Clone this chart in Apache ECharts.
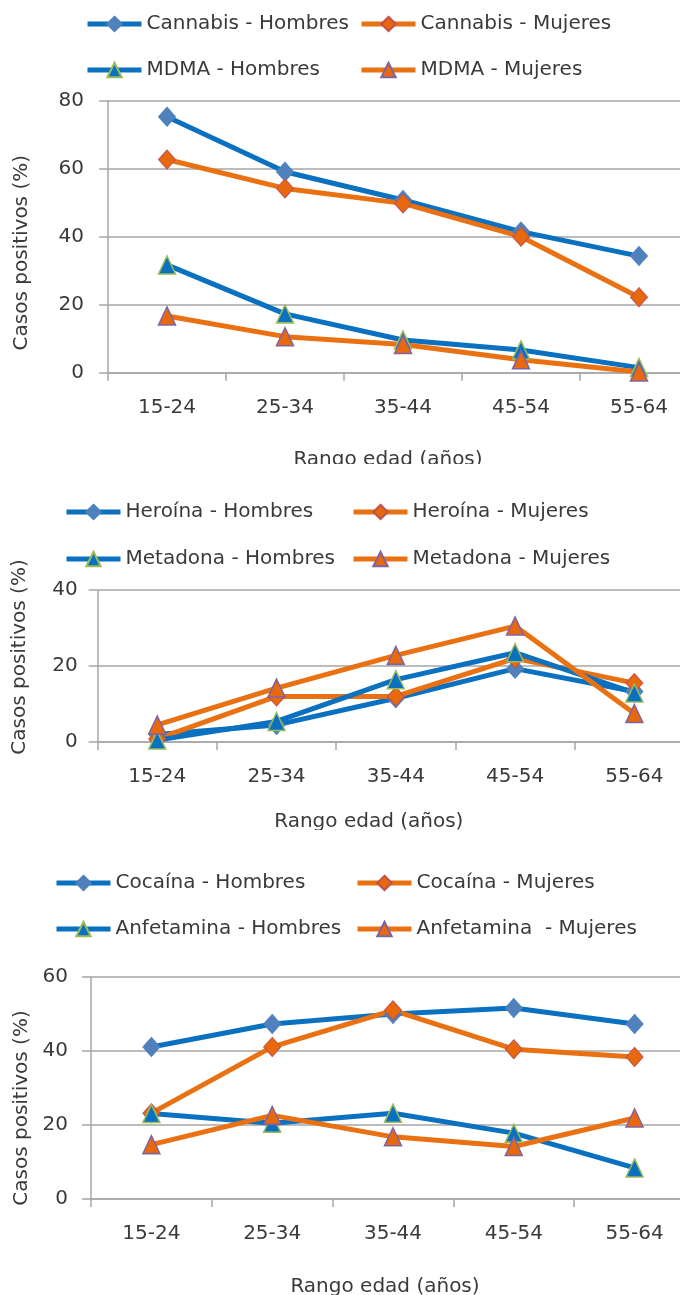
<!DOCTYPE html>
<html>
<head>
<meta charset="utf-8">
<script src="https://cdn.jsdelivr.net/npm/echarts@6/dist/echarts.min.js"></script>
<style>
html,body{margin:0;padding:0;background:#fff;overflow:hidden;width:680px;height:1295px;}
.panel{position:absolute;left:0;width:720px;overflow:hidden;}
</style>
</head>
<body>
<div id="c1" class="panel" style="top:0;height:464px"></div>
<div id="c2" class="panel" style="top:464px;height:366px"></div>
<div id="c3" class="panel" style="top:830px;height:465px"></div>
<script>
// ---- data ----
const ageGroups = ['15-24', '25-34', '35-44', '45-54', '55-64'];
const yTicks1 = [0, 20, 40, 60, 80];
const yTicks2 = [0, 20, 40];
const yTicks3 = [0, 20, 40, 60];

const cannabisHombres = [75.3, 59.1, 50.8, 41.5, 34.3];
const cannabisMujeres = [62.7, 54.2, 49.8, 40.0, 22.2];
const mdmaHombres = [31.7, 17.3, 9.6, 6.7, 1.5];
const mdmaMujeres = [16.7, 10.6, 8.3, 3.8, 0.2];

const heroinaHombres = [2.0, 4.5, 11.5, 19.3, 13.3];
const heroinaMujeres = [0.8, 12.0, 12.0, 22.0, 15.5];
const metadonaHombres = [0.5, 5.4, 16.4, 23.5, 12.9];
const metadonaMujeres = [4.5, 14.2, 22.8, 30.5, 7.5];

const cocainaHombres = [41.1, 47.3, 50.0, 51.6, 47.3];
const cocainaMujeres = [23.2, 41.1, 51.0, 40.5, 38.4];
const anfetaminaHombres = [23.1, 20.5, 23.2, 17.8, 8.4];
const anfetaminaMujeres = [14.7, 22.6, 16.8, 14.2, 21.9];

// ---- styles ----
const FONT = 'DejaVu Sans';
const TXT = '#3a3a3a';
const GRID = '#a6a6a6';
const BLUE = '#0a70c0';
const ORANGE = '#ea7112';
const PANEL_W = 720;

const markerStyles = {
  hDiamond: { symbol: 'diamond', symbolSize: [17, 19], color: BLUE, itemStyle: { color: '#4f81bd', borderColor: '#4f81bd', borderWidth: 1 } },
  mDiamond: { symbol: 'diamond', symbolSize: [17, 19], color: ORANGE, itemStyle: { color: '#e8680e', borderColor: '#c0504d', borderWidth: 1 } },
  hTri: { symbol: 'triangle', symbolSize: [17, 18], color: BLUE, itemStyle: { color: '#0a70c0', borderColor: '#9bbb59', borderWidth: 1.5 } },
  mTri: { symbol: 'triangle', symbolSize: [17, 18], color: ORANGE, itemStyle: { color: '#e8680e', borderColor: '#8064a2', borderWidth: 1.5 } }
};

function mkSeries(name, data, kind) {
  const m = markerStyles[kind];
  return {
    name: name, type: 'line', data: data,
    symbol: m.symbol, symbolSize: m.symbolSize, showSymbol: true,
    lineStyle: { color: m.color, width: 5 },
    itemStyle: m.itemStyle,
    emphasis: { disabled: true },
    animation: false
  };
}

function mkLegend(name, left, top) {
  return {
    data: [name], left: left, top: top, padding: 0,
    itemWidth: 54, itemHeight: 18,
    lineStyle: { width: 5 },
    textStyle: { fontFamily: FONT, fontSize: 20, color: TXT },
    selectedMode: false
  };
}

function mkOption(cfg) {
  return {
    backgroundColor: '#fff',
    animation: false,
    textStyle: { fontFamily: FONT },
    legend: cfg.legends,
    grid: {
      left: cfg.grid[0], top: cfg.grid[1], right: PANEL_W - cfg.grid[2], bottom: cfg.grid[3],
      containLabel: false, outerBoundsMode: 'none'
    },
    xAxis: {
      type: 'category', data: ageGroups, boundaryGap: true,
      axisLine: { lineStyle: { color: GRID, width: 1.5 } },
      axisTick: { show: true, length: 8, lineStyle: { color: GRID, width: 1.5 } },
      axisLabel: { fontFamily: FONT, fontSize: 20, color: TXT, margin: cfg.xLabelMargin },
      name: 'Rango edad (años)', nameLocation: 'middle', nameGap: cfg.xNameGap,
      nameTextStyle: { fontFamily: FONT, fontSize: 20, color: TXT, padding: [0, cfg.xNamePadR, 0, 0] }
    },
    yAxis: {
      type: 'value', min: 0, max: cfg.yTicks[cfg.yTicks.length - 1], interval: 20,
      axisLine: { show: true, lineStyle: { color: GRID, width: 1.5 } },
      axisTick: { show: true, length: 9, lineStyle: { color: GRID, width: 1.5 } },
      axisLabel: { fontFamily: FONT, fontSize: 20, color: TXT, margin: cfg.yLabelMargin },
      splitLine: { show: true, lineStyle: { color: GRID, width: 1.5 } },
      name: 'Casos positivos (%)', nameLocation: 'middle', nameGap: cfg.yNameGap, nameRotate: 90,
      nameTextStyle: { fontFamily: FONT, fontSize: 20, color: TXT, padding: cfg.yNamePad }
    },
    series: cfg.series
  };
}

const ch1 = echarts.init(document.getElementById('c1'));
ch1.setOption(mkOption({
  legends: [
    mkLegend('Cannabis - Hombres', 85, 14),
    mkLegend('Cannabis - Mujeres', 359, 14),
    mkLegend('MDMA - Hombres', 85, 60),
    mkLegend('MDMA - Mujeres', 359, 60)
  ],
  grid: [108, 100.7, 698, 91.3],
  yTicks: yTicks1,
  xLabelMargin: 25, xNameGap: 77, xNamePadR: 30,
  yLabelMargin: 24, yNameGap: 76, yNamePad: [0, 32, 0, 0],
  series: [
    mkSeries('Cannabis - Hombres', cannabisHombres, 'hDiamond'),
    mkSeries('Cannabis - Mujeres', cannabisMujeres, 'mDiamond'),
    mkSeries('MDMA - Hombres', mdmaHombres, 'hTri'),
    mkSeries('MDMA - Mujeres', mdmaMujeres, 'mTri')
  ]
}));

const ch2 = echarts.init(document.getElementById('c2'));
ch2.setOption(mkOption({
  legends: [
    mkLegend('Heroína - Hombres', 64, 38),
    mkLegend('Heroína - Mujeres', 351, 38),
    mkLegend('Metadona - Hombres', 64, 85),
    mkLegend('Metadona - Mujeres', 351, 85)
  ],
  grid: [97.6, 126, 694, 88],
  yTicks: yTicks2,
  xLabelMargin: 25, xNameGap: 70, xNamePadR: 54,
  yLabelMargin: 20, yNameGap: 68, yNamePad: [0, 0, 0, 18],
  series: [
    mkSeries('Heroína - Hombres', heroinaHombres, 'hDiamond'),
    mkSeries('Heroína - Mujeres', heroinaMujeres, 'mDiamond'),
    mkSeries('Metadona - Hombres', metadonaHombres, 'hTri'),
    mkSeries('Metadona - Mujeres', metadonaMujeres, 'mTri')
  ]
}));

const ch3 = echarts.init(document.getElementById('c3'));
ch3.setOption(mkOption({
  legends: [
    mkLegend('Cocaína - Hombres', 54, 43),
    mkLegend('Cocaína - Mujeres', 355, 43),
    mkLegend('Anfetamina - Hombres', 54, 89),
    mkLegend('Anfetamina  - Mujeres', 355, 89)
  ],
  grid: [91, 147, 695, 96],
  yTicks: yTicks3,
  xLabelMargin: 25, xNameGap: 78, xNamePadR: 16,
  yLabelMargin: 23, yNameGap: 59, yNamePad: [0, 40, 0, 0],
  series: [
    mkSeries('Cocaína - Hombres', cocainaHombres, 'hDiamond'),
    mkSeries('Cocaína - Mujeres', cocainaMujeres, 'mDiamond'),
    mkSeries('Anfetamina - Hombres', anfetaminaHombres, 'hTri'),
    mkSeries('Anfetamina  - Mujeres', anfetaminaMujeres, 'mTri')
  ]
}));
</script>
</body>
</html>
